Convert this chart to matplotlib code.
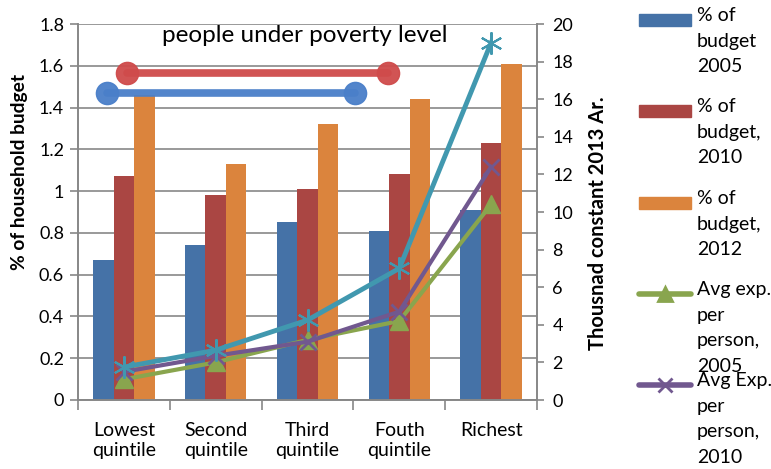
import matplotlib
matplotlib.use("Agg")
import matplotlib.pyplot as plt
import numpy as np
from matplotlib.patches import Rectangle
from matplotlib.lines import Line2D

plt.rcParams['font.family'] = ['Lato', 'DejaVu Sans']

categories = ["Lowest\nquintile", "Second\nquintile", "Third\nquintile",
              "Fouth\nquintile", "Richest"]

# % of household budget (left axis)
budget_2005 = [0.67, 0.74, 0.85, 0.81, 0.91]
budget_2010 = [1.07, 0.98, 1.01, 1.08, 1.23]
budget_2012 = [1.46, 1.13, 1.32, 1.44, 1.61]

# average expenditure per person, thousand constant 2013 Ar. (right axis)
exp_2005 = [1.1, 2.0, 3.2, 4.2, 10.4]
exp_2010 = [1.5, 2.35, 3.1, 4.7, 12.4]
exp_2012 = [1.75, 2.65, 4.25, 7.0, 19.0]

# poverty level markers: (start category, end category, % of budget)
poverty_2010 = (0.03, 2.88, 1.565)
poverty_2005 = (-0.18, 2.52, 1.47)

legend_labels = ["% of\nbudget\n2005", "% of\nbudget,\n2010", "% of\nbudget,\n2012",
                 "Avg exp.\nper\nperson,\n2005", "Avg Exp.\nper\nperson,\n2010"]

c_blue = "#4572A7"
c_red = "#AA4643"
c_orange = "#DB843D"
c_green = "#89A54E"
c_purple = "#71588F"
c_cyan = "#4198AF"
grey = "#878787"

W, H = 771, 469
fig = plt.figure(figsize=(W / 100, H / 100), dpi=100)
ax = fig.add_axes([78 / W, 1 - 400 / H, (537 - 78) / W, (400 - 24) / H])
ax2 = ax.twinx()

x = np.arange(len(categories))
bw = 0.223
ax.bar(x - bw, budget_2005, bw, color=c_blue, zorder=2)
ax.bar(x, budget_2010, bw, color=c_red, zorder=2)
ax.bar(x + bw, budget_2012, bw, color=c_orange, zorder=2)

ax.set_xlim(-0.5, len(categories) - 0.5)
ax.set_ylim(0, 1.8)
ax.set_yticks(np.arange(0, 1.81, 0.2))
ax.set_yticklabels(["0", "0.2", "0.4", "0.6", "0.8", "1", "1.2", "1.4", "1.6", "1.8"])
ax.yaxis.grid(True, color=grey, linewidth=1.2, zorder=0)
ax.set_axisbelow(True)
ax.set_xticks(x)
ax.set_xticklabels(categories, fontsize=14, linespacing=1.2)
ax.set_xticks(np.arange(-0.5, len(categories), 1), minor=True)
ax.tick_params(axis='x', which='major', length=0, pad=16)
ax.tick_params(axis='x', which='minor', length=7, color=grey, width=1.2)
ax.tick_params(axis='y', length=6, color=grey, width=1.2, labelsize=13, pad=4)

# poverty level lines
for (x0, x1, lvl), col in [(poverty_2010, "#CF4B4B"), (poverty_2005, "#4A7FC9")]:
    ax.plot([x0, x1], [lvl, lvl], color=col, lw=5.5, marker='o', ms=16,
            solid_capstyle='round', zorder=5, alpha=0.95)

ax.text(1.97, 1.745, "people under poverty level",
        ha='center', va='center', fontsize=17.5, zorder=6)

ax2.plot(x, exp_2005, color=c_green, lw=3, marker='^', ms=13, zorder=3)
ax2.plot(x, exp_2010, color=c_purple, lw=3, marker='x', ms=12, mew=2, zorder=4)
ax2.plot(x, exp_2012, color=c_cyan, lw=3.5, marker=(6, 2, 0), ms=16, mew=1.5, zorder=5)
ax2.set_ylim(0, 20)
ax2.set_yticks(np.arange(0, 21, 2))
ax2.tick_params(axis='y', length=5, color=grey, width=1.2, labelsize=13, pad=6)

for a in (ax, ax2):
    for s in a.spines.values():
        s.set_color(grey)
        s.set_linewidth(1.2)
    a.spines['top'].set_visible(False)

# axis titles placed where the original has them
fig.text(20 / W, 1 - 172 / H, "% of household budget", rotation=90,
         fontsize=13.8, fontweight='bold', ha='center', va='center')
fig.text(598 / W, 1 - 223 / H, "Thousnad constant 2013 Ar.", rotation=90,
         fontsize=14.5, fontweight='bold', ha='center', va='center')

# legend drawn by hand so the entries overlap like in the original
entry_y = [20, 111, 203, 294, 385]
for i, (lab, y) in enumerate(zip(legend_labels, entry_y)):
    if i < 3:
        col = [c_blue, c_red, c_orange][i]
        fig.add_artist(Rectangle((639 / W, 1 - (y + 6) / H), 52 / W, 12 / H,
                                 color=col, transform=fig.transFigure))
    else:
        col = [c_green, c_purple][i - 3]
        mk = ['^', 'x'][i - 3]
        fig.add_artist(Line2D([639 / W, 691 / W], [1 - y / H, 1 - y / H],
                              color=col, lw=4, transform=fig.transFigure,
                              solid_capstyle='round'))
        fig.add_artist(Line2D([665 / W], [1 - y / H], color=col, marker=mk,
                              ms=10, mew=2, transform=fig.transFigure))
    fig.text(697 / W, 1 - (y - 13) / H, lab, fontsize=14, va='top', ha='left',
             linespacing=1.62)

fig.savefig("out.png", dpi=100)
